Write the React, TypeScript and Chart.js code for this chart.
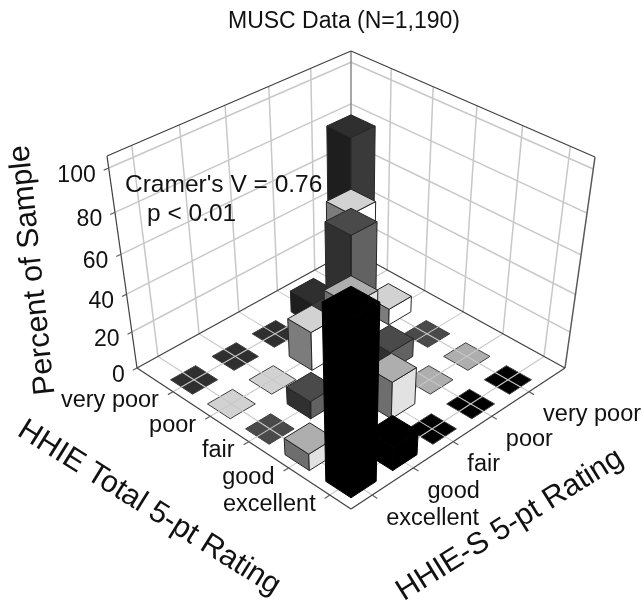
import React, { useEffect, useRef } from "react";
import { Chart, registerables } from "chart.js";

Chart.register(...registerables);

// ---------- data ----------
const ratings = ["very poor", "poor", "fair", "good", "excellent"];
const zTicks = [0, 20, 40, 60, 80, 100];
// Percent of sample, row = HHIE Total category, column = HHIE-S category
const veryPoorRow = [87, 12, 0, 0, 0];
const poorRow = [9, 70, 21, 0, 0];
const fairRow = [0, 10, 81, 9.5, 0];
const goodRow = [0, 0, 20, 71, 9];
const excellentRow = [0, 0, 0, 13, 89];
const heights = [veryPoorRow, poorRow, fairRow, goodRow, excellentRow];

// ---------- styles ----------
const W = 644;
const H = 607;
const topColors = ["#2f2f2f", "#d2d2d2", "#4a4a4a", "#aeaeae", "#000000"];
const leftColors = ["#1e1e1e", "#7c7c7c", "#303030", "#6e6e6e", "#000000"];
const rightColors = ["#3a3a3a", "#ffffff", "#626262", "#e2e2e2", "#000000"];
const GRID = "#c8c8c8";
const EDGE = "#404040";
const FONT = '"Liberation Sans", Arial, sans-serif';
const AXIS_END = 5.5;
const Z_MAX = 105.2;
const BAR_HALF = 0.3;

// ---------- projection of the 3D box onto the page ----------
type P = [number, number];
function squareToQuad(p00: P, p10: P, p01: P, p11: P) {
  const dx1 = p10[0] - p11[0], dx2 = p01[0] - p11[0], sx = p00[0] - p10[0] + p11[0] - p01[0];
  const dy1 = p10[1] - p11[1], dy2 = p01[1] - p11[1], sy = p00[1] - p10[1] + p11[1] - p01[1];
  const den = dx1 * dy2 - dx2 * dy1;
  const g = (sx * dy2 - dx2 * sy) / den;
  const h = (dx1 * sy - sx * dy1) / den;
  const a = p10[0] - p00[0] + g * p10[0], b = p01[0] - p00[0] + h * p01[0], c = p00[0];
  const d = p10[1] - p00[1] + g * p10[1], e = p01[1] - p00[1] + h * p01[1], f = p00[1];
  return (u: number, v: number): P => {
    const w = g * u + h * v + 1;
    return [(a * u + b * v + c) / w, (d * u + e * v + f) / w];
  };
}
const floorPlane = squareToQuad([351, 250], [565, 368], [137, 368], [351, 509]);
const topPlane = squareToQuad([351, 51], [595, 157], [107, 156], [351, 292]);
function liftFraction(z: number) {
  const t = z / 100;
  return ((175.6 * t) / (1 - 0.122 * t)) / 212;
}
function project(a: number, b: number, z: number) {
  const u = a / AXIS_END, v = b / AXIS_END;
  const p = floorPlane(u, v), q = topPlane(u, v);
  const f = liftFraction(z);
  return { x: p[0] + (q[0] - p[0]) * f, y: p[1] + (q[1] - p[1]) * f };
}

// ---------- faces built from the data ----------
type Pt = { x: number; y: number };
const datasets: any[] = [];
function addShape(points: Pt[], fill: string | null, stroke: string, width: number) {
  datasets.push({
    data: fill ? [...points, points[0]] : points,
    showLine: true,
    fill: fill ? "shape" : false,
    backgroundColor: fill || "transparent",
    borderColor: stroke,
    borderWidth: width,
    borderJoinStyle: "round",
    pointRadius: 0,
    tension: 0,
    clip: false,
  });
}
const line = (s: Pt, e: Pt, color: string, width: number) => addShape([s, e], null, color, width);

// walls: grid
for (let i = 1; i <= 5; i++) {
  line(project(0, i, 0), project(0, i, Z_MAX), GRID, 1.5);
  line(project(i, 0, 0), project(i, 0, Z_MAX), GRID, 1.5);
}
for (const z of zTicks.slice(1)) {
  line(project(0, 0, z), project(0, AXIS_END, z), GRID, 1.5);
  line(project(0, 0, z), project(AXIS_END, 0, z), GRID, 1.5);
}
line(project(0, 0, 0), project(0, 0, Z_MAX), "#8a8a8a", 1.5);
// wall outline
line(project(0, AXIS_END, 0), project(0, AXIS_END, Z_MAX), EDGE, 1.2);
line(project(AXIS_END, 0, 0), project(AXIS_END, 0, Z_MAX), "#5a5a5a", 1.5);
line(project(0, AXIS_END, Z_MAX), project(0, 0, Z_MAX), EDGE, 1.2);
line(project(0, 0, Z_MAX), project(AXIS_END, 0, Z_MAX), EDGE, 1.2);

// flat cells sit under the floor grid
heights.forEach((row, r) =>
  row.forEach((v, c) => {
    if (v > 0) return;
    const a = r + 1, b = c + 1, w = BAR_HALF;
    addShape(
      [project(a - w, b - w, 0), project(a + w, b - w, 0), project(a + w, b + w, 0), project(a - w, b + w, 0)],
      topColors[r], "#404040", 1
    );
  })
);
// floor grid and outline
for (let i = 1; i <= 5; i++) {
  line(project(i, 0, 0), project(i, AXIS_END, 0), GRID, 1.1);
  line(project(0, i, 0), project(AXIS_END, i, 0), GRID, 1.1);
}
line(project(0, 0, 0), project(0, AXIS_END, 0), EDGE, 1.2);
line(project(0, 0, 0), project(AXIS_END, 0, 0), EDGE, 1.2);
line(project(0, AXIS_END, 0), project(AXIS_END, AXIS_END, 0), EDGE, 1.2);
line(project(AXIS_END, 0, 0), project(AXIS_END, AXIS_END, 0), EDGE, 1.2);
// axis ticks
for (let i = 1; i <= 5; i++) {
  line(project(i, AXIS_END, 0), project(i, AXIS_END + 0.12, 0), "#606060", 1.2);
  line(project(AXIS_END, i, 0), project(AXIS_END + 0.12, i, 0), "#606060", 1.2);
}
for (const z of zTicks) {
  line(project(0, AXIS_END, z), project(0, AXIS_END + 0.1, z), "#606060", 1.2);
}

// standing bars, back to front
const cells: { r: number; c: number }[] = [];
heights.forEach((row, r) => row.forEach((v, c) => { if (v > 0) cells.push({ r, c }); }));
cells.sort((p, q) => p.r + p.c - (q.r + q.c));
for (const { r, c } of cells) {
  const a = r + 1, b = c + 1, w = BAR_HALF, z = heights[r][c];
  const edge = r === 4 ? "#000000" : "#262626";
  addShape(
    [project(a - w, b + w, 0), project(a + w, b + w, 0), project(a + w, b + w, z), project(a - w, b + w, z)],
    leftColors[r], edge, 1
  );
  addShape(
    [project(a + w, b + w, 0), project(a + w, b - w, 0), project(a + w, b - w, z), project(a + w, b + w, z)],
    rightColors[r], edge, 1
  );
  addShape(
    [project(a - w, b - w, z), project(a + w, b - w, z), project(a + w, b + w, z), project(a - w, b + w, z)],
    topColors[r], edge, 1
  );
}
// later faces must paint over earlier ones
datasets.forEach((d, i) => { d.order = datasets.length - i; });

// ---------- text ----------
const textPlugin = {
  id: "boxText",
  afterDraw(chart: any) {
    const ctx = chart.ctx as CanvasRenderingContext2D;
    ctx.save();
    ctx.fillStyle = "#111111";
    ctx.textBaseline = "middle";
    const put = (s: string, x: number, y: number, size: number, align: CanvasTextAlign = "left", deg = 0) => {
      ctx.save();
      ctx.font = `${size}px ${FONT}`;
      ctx.textAlign = align;
      ctx.translate(x, y);
      ctx.rotate((deg * Math.PI) / 180);
      ctx.fillText(s, 0, 0);
      ctx.restore();
    };
    put("MUSC Data (N=1,190)", 344, 22, 23, "center");
    put("Cramer's V = 0.76", 125, 185, 24.5);
    put("p < 0.01", 147, 214, 24.5);
    ratings.forEach((label, i) => {
      const l = project(i + 1, AXIS_END + 0.12, 0);
      put(label, l.x - 9, l.y + 6, 23.5, "right");
      const r = project(AXIS_END + 0.12, i + 1, 0);
      put(label, r.x + 9, r.y + 20, 23.5, "left");
    });
    zTicks.forEach((z) => {
      const t = project(0, AXIS_END + 0.1, z);
      put(String(z), t.x - 8, t.y + 5, 23, "right");
    });
    put("Percent of Sample", 33, 270, 30.5, "center", -96);
    put("HHIE Total 5-pt Rating", 149, 508, 30.5, "center", 32);
    put("HHIE-S 5-pt Rating", 510, 525, 30.5, "center", -32);
    ctx.restore();
  },
};

export default function App() {
  const ref = useRef<HTMLCanvasElement>(null);
  useEffect(() => {
    const chart = new Chart(ref.current as HTMLCanvasElement, {
      type: "scatter",
      data: { datasets },
      options: {
        animation: false,
        responsive: false,
        layout: { padding: 0 },
        scales: {
          x: { type: "linear", min: 0, max: W, display: false },
          y: { type: "linear", min: 0, max: H, reverse: true, display: false },
        },
        plugins: {
          legend: { display: false },
          tooltip: { enabled: false },
          filler: { drawTime: "beforeDatasetDraw" },
        },
      } as any,
      plugins: [textPlugin],
    });
    return () => chart.destroy();
  }, []);
  return (
    <canvas
      ref={ref}
      width={W}
      height={H}
      style={{ position: "absolute", left: 0, top: 0, width: W, height: H, background: "#fff" }}
    />
  );
}
